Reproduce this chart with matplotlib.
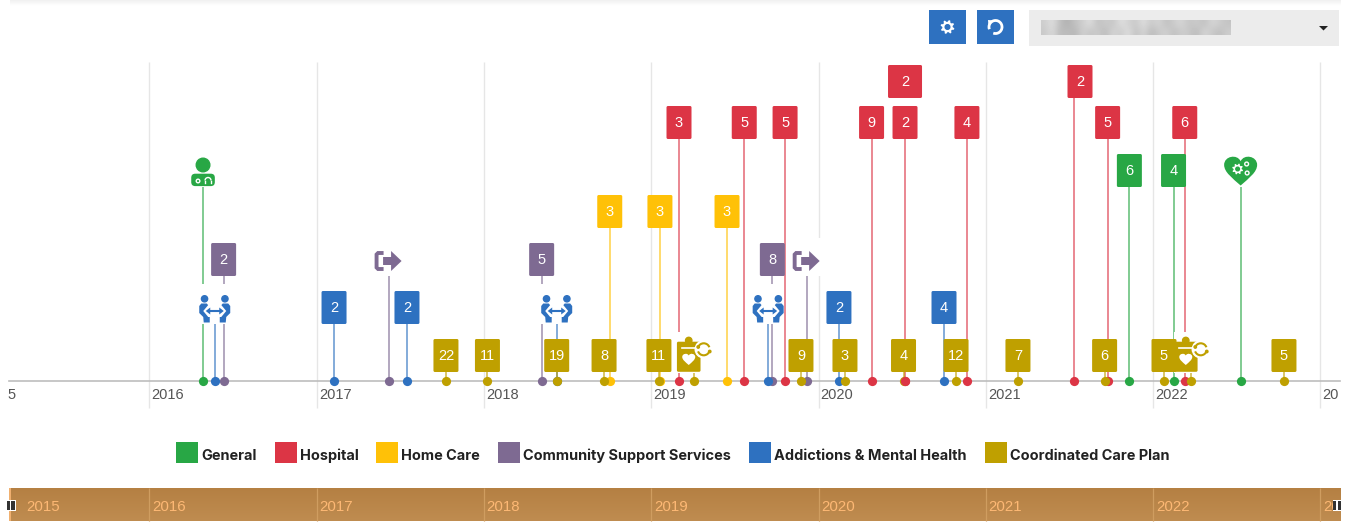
import matplotlib
matplotlib.use("Agg")
import matplotlib.pyplot as plt
import numpy as np
from matplotlib.patches import Arc, Circle, FancyBboxPatch, PathPatch, Polygon, Rectangle
from matplotlib.path import Path
from matplotlib.transforms import Affine2D

W, H = 1350, 531
BLUE = "#2e71c0"
GREEN = "#28a745"
RED = "#dc3545"
YELLOW = "#ffc107"
PURPLE = "#7e6a92"
GOLD = "#bfa000"
NAV_TOP, NAV_BOTTOM = "#b58043", "#bf8c50"

YEARS = [2016, 2017, 2018, 2019, 2020, 2021, 2022, 2023]
# the first and last labels are cut by the plot edge in the chart
AXIS_LABELS = ["5", "2016", "2017", "2018", "2019", "2020", "2021", "2022", "20"]
NAV_LABELS = ["2015", "2016", "2017", "2018", "2019", "2020", "2021", "2022", "20"]

# None in a counts list means the event is an icon, not a numbered box
GENERAL_YEARS = [2016.317, 2021.854, 2022.118, 2022.519]
GENERAL_COUNTS = [None, 6, 4, None]

HOSPITAL_YEARS = [2019.162, 2019.552, 2019.796, 2020.313, 2020.513, 2020.883, 2021.724, 2022.185]
HOSPITAL_COUNTS = [3, 5, 5, 9, 2, 4, 5, 6]

HOMECARE_YEARS = [2018.748, 2019.048, 2019.449]
HOMECARE_COUNTS = [3, 3, 3]

COMMUNITY_YEARS = [2016.44, 2017.426, 2018.341, 2019.72, 2019.925]
COMMUNITY_COUNTS = [2, None, 5, 8, None]

ADDICTIONS_YEARS = [2016.387, 2017.10, 2017.536, 2018.431, 2019.692, 2020.118, 2020.746]
ADDICTIONS_COUNTS = [None, 2, 2, None, None, 2, 4]

CARE_PLAN_YEARS = [2017.769, 2018.017, 2018.431, 2018.714, 2019.042, 2019.25, 2019.891, 2020.154,
                   2020.504, 2020.818, 2021.188, 2021.706, 2022.061, 2022.221, 2022.778]
CARE_PLAN_COUNTS = [22, 11, 19, 8, 11, None, 9, 3, 4, 12, 7, 6, 5, None, 5]

LEGEND_LABELS = ["General", "Hospital", "Home Care", "Community Support Services",
                 "Addictions & Mental Health", "Coordinated Care Plan"]
LEGEND_COLORS = [GREEN, RED, YELLOW, PURPLE, BLUE, GOLD]
LEGEND_X = [176, 275, 376, 498, 749, 985]

# box centre height for each series
SERIES = [
    (GENERAL_YEARS, GENERAL_COUNTS, GREEN, 170.5),
    (HOSPITAL_YEARS, HOSPITAL_COUNTS, RED, 122.5),
    (HOMECARE_YEARS, HOMECARE_COUNTS, YELLOW, 211.5),
    (COMMUNITY_YEARS, COMMUNITY_COUNTS, PURPLE, 259.5),
    (ADDICTIONS_YEARS, ADDICTIONS_COUNTS, BLUE, 307.5),
    (CARE_PLAN_YEARS, CARE_PLAN_COUNTS, GOLD, 355.5),
]

# hospital boxes stacked one row higher
HOSPITAL_TOP_YEARS = [2020.513, 2021.526]
HOSPITAL_TOP_COUNTS = [2, 2]

# blurred text in the period selector, grey levels
SELECT_BLUR = [
    [205, 225, 190, 175, 195, 205, 225, 190, 205, 195, 225, 210, 200, 225, 200, 215, 190, 205, 215, 195, 205, 190, 215, 205, 195],
    [200, 220, 185, 190, 180, 210, 195, 205, 185, 215, 200, 225, 190, 215, 185, 200, 210, 190, 205, 200, 185, 215, 200, 190, 205],
]

AXIS_Y = 380.5
PX_PER_YEAR = 167.3
X0 = 2016 - 150 / PX_PER_YEAR
X1 = X0 + W / PX_PER_YEAR

fig = plt.figure(figsize=(W / 100, H / 100), dpi=100, facecolor="white")
ax = fig.add_axes([0, 0, 1, 1])
ax.axis("off")
ax.set_xlim(X0, X1)
ax.set_ylim(H, 0)

# pixel coordinates, top-left origin, for the page furniture and icon shapes
ui = Affine2D().scale(1, -1).translate(0, H)


def to_px(year):
    return ax.transData.transform((year, 0))[0]


def to_year(px):
    return X0 + px / PX_PER_YEAR


def rect(x0, y0, x1, y1, color, z=1):
    ax.add_patch(Rectangle((x0, y0), x1 - x0, y1 - y0, facecolor=color, edgecolor="none",
                           transform=ui, zorder=z))


def box(cx, cy, label, color, half_w=11.5):
    ax.add_patch(FancyBboxPatch((cx - half_w, cy - 15.5), half_w * 2, 31, boxstyle="round,pad=1,rounding_size=1.5",
                                facecolor=color, edgecolor="none", transform=ui, zorder=5))
    ax.text(cx, cy + 0.5, str(label), color="white", fontsize=10.5, family="Liberation Sans",
            ha="center", va="center", transform=ui, zorder=6)


def stem(year, top, color):
    ax.plot([year, year], [top, AXIS_Y], color=color, lw=1.1, alpha=0.75, zorder=2,
            solid_capstyle="butt")


def gear(cx, cy, r, color, hole, z=7):
    angles = np.linspace(0, 2 * np.pi, 32, endpoint=False)
    radii = np.where(np.arange(32) % 4 < 2, r, r * 0.74)
    pts = np.column_stack([cx + radii * np.cos(angles + 0.2), cy + radii * np.sin(angles + 0.2)])
    ax.add_patch(Polygon(pts, closed=True, facecolor=color, edgecolor="none", transform=ui, zorder=z))
    ax.add_patch(Circle((cx, cy), r * 0.33, color=hole, transform=ui, zorder=z + 0.1))


def people_icon(cx):
    rect(cx - 15.5, 284, cx + 15.5, 324, "white", 3)
    for side in (-1, 1):
        ax.add_patch(Circle((cx + side * 10.2, 298.8), 3.1, color=BLUE, transform=ui, zorder=6))
        pts = [(side * 15.5, 306), (side * 13.5, 303.5), (side * 8, 303.5), (side * 5, 307), (side * 5, 322.5),
               (side * 11, 322.5), (side * 11.5, 317), (side * 15.5, 313)]
        ax.add_patch(Polygon([(cx + a, b) for a, b in pts], closed=True, facecolor=BLUE, edgecolor="none",
                             transform=ui, zorder=6))
    halo = [(-11.5, 311), (-6.5, 305), (6.5, 305), (11.5, 311), (6.5, 317), (-6.5, 317)]
    ax.add_patch(Polygon([(cx + a, b) for a, b in halo], closed=True, facecolor="white", edgecolor="none",
                         transform=ui, zorder=6.5))
    ax.plot([to_year(cx - 6), to_year(cx + 6)], [311, 311], color=BLUE, lw=1.5, zorder=7)
    for side in (-1, 1):
        head = [(cx + side * 9, 311), (cx + side * 4.5, 307.5), (cx + side * 4.5, 314.5)]
        ax.add_patch(Polygon(head, closed=True, facecolor=BLUE, edgecolor="none", transform=ui, zorder=7))


def exit_icon(cx):
    rect(cx - 15, 238, cx + 14, 276, "white", 3)
    verts = [(cx - 5, 253), (cx - 10.5, 253), (cx - 12, 254.5), (cx - 12, 267.5), (cx - 10.5, 269), (cx - 5, 269)]
    ax.add_patch(PathPatch(Path(verts), facecolor="none", edgecolor=PURPLE, lw=2.8, transform=ui, zorder=6))
    arrow = [(-5.5, 257), (2.5, 257), (2.5, 251), (13, 261), (2.5, 271), (2.5, 265), (-5.5, 265)]
    ax.add_patch(Polygon([(cx + a, b) for a, b in arrow], closed=True, facecolor=PURPLE, edgecolor="none",
                         transform=ui, zorder=6))


def doctor_icon(cx):
    ax.add_patch(Circle((cx, 165), 6.8, color=GREEN, transform=ui, zorder=6))
    ax.add_patch(FancyBboxPatch((cx - 10, 175.5), 20, 8.8, boxstyle="round,pad=1.8,rounding_size=4",
                                facecolor=GREEN, edgecolor="none", transform=ui, zorder=6))
    ax.add_patch(Circle((cx - 5, 181), 1.8, facecolor="none", edgecolor="white", lw=1, transform=ui, zorder=7))
    ax.add_patch(Arc((cx + 5, 180.5), 6, 6, theta1=180, theta2=360, color="white", lw=1, transform=ui, zorder=7))
    for dx in (2, 8):
        ax.plot([to_year(cx + dx)] * 2, [180.5, 183], color="white", lw=1, zorder=7)


def heart_path(cx, top, w, h):
    # top-down pixel coordinates
    return Path([(cx, top + h), (cx - w * 0.25, top + h * 0.75), (cx - w * 0.5, top + h * 0.55), (cx - w * 0.5, top + h * 0.3),
                 (cx - w * 0.5, top), (cx - w * 0.1, top - h * 0.08), (cx, top + h * 0.18),
                 (cx + w * 0.1, top - h * 0.08), (cx + w * 0.5, top), (cx + w * 0.5, top + h * 0.3),
                 (cx + w * 0.5, top + h * 0.55), (cx + w * 0.25, top + h * 0.75), (cx, top + h)],
                [Path.MOVETO] + [Path.CURVE4] * 12)


def heart_gears_icon(cx):
    ax.add_patch(PathPatch(heart_path(cx, 156, 33, 29.5), facecolor=GREEN, edgecolor="none", transform=ui, zorder=6))
    gear(cx - 3, 169, 5.5, "white", GREEN)
    for dx, y in ((6, 164), (6.5, 173)):
        ax.add_patch(Circle((cx + dx, y), 1.9, facecolor="none", edgecolor="white", lw=1, transform=ui, zorder=7))


def clipboard_icon(cx):
    rect(cx - 12, 332, cx + 27, 373, "white", 3)
    ax.add_patch(FancyBboxPatch((cx - 11, 342.5), 22, 28.5, boxstyle="round,pad=0.8,rounding_size=1.5",
                                facecolor=GOLD, edgecolor="none", transform=ui, zorder=6))
    ax.add_patch(Circle((cx, 340.5), 3.2, color=GOLD, transform=ui, zorder=6))
    ax.plot([to_year(cx - 7), to_year(cx + 7)], [348, 348], color="white", lw=1.2, zorder=7)
    ax.add_patch(PathPatch(heart_path(cx, 353.5, 13, 11.5), facecolor="white", edgecolor="none", transform=ui, zorder=7))
    ax.add_patch(Circle((cx + 15, 349.3), 8.5, color="white", transform=ui, zorder=6))
    for t1, t2, tip in ((20, 160, (cx + 9.5, 347)), (200, 340, (cx + 21, 351.5))):
        ax.add_patch(Arc((cx + 15, 349.3), 12, 12, theta1=t1, theta2=t2, color=GOLD, lw=1.5, transform=ui, zorder=7))
        ax.add_patch(Circle(tip, 1.2, color=GOLD, transform=ui, zorder=7))


# year grid and axis, grid lines sit half a pixel left of the year
grid_x = [to_year(to_px(y) - 0.6) for y in YEARS]
ax.vlines(grid_x, 62, 408, color="#e6e6e6", lw=1, zorder=0)
ax.plot([to_year(9), to_year(1340)], [AXIS_Y, AXIS_Y], color="#bdbdbd", lw=1.2, zorder=1)
tick_px = [7.5] + [to_px(y) + 1.5 for y in YEARS]
for px, label in zip(tick_px, AXIS_LABELS):
    ax.text(to_year(px), 395, label, color="#555555", fontsize=10.5, family="Liberation Sans",
            ha="left", va="center", zorder=2)

# events
for years, counts, color, level in SERIES:
    for year, count in zip(years, counts):
        stem(year, level + 16, color)
        if count is not None:
            box(to_px(year), level, count, color)
    ax.scatter(years, [AXIS_Y] * len(years), s=44, color=color, linewidths=0, zorder=8)

# the 2020 top box has no stem of its own and is drawn wider, the 2021 one hangs off its stem
box(to_px(HOSPITAL_TOP_YEARS[0]), 81.5, HOSPITAL_TOP_COUNTS[0], RED, half_w=16)
stem(HOSPITAL_TOP_YEARS[1], 98, RED)
box(to_px(HOSPITAL_TOP_YEARS[1]) + 5.5, 81.5, HOSPITAL_TOP_COUNTS[1], RED)
ax.scatter(HOSPITAL_TOP_YEARS, [AXIS_Y] * len(HOSPITAL_TOP_YEARS), s=44, color=RED, linewidths=0, zorder=8)

# icons over the stems
doctor_cx = to_px(GENERAL_YEARS[0])
rect(doctor_cx - 14, 150, doctor_cx + 14, 187, "white", 3)
doctor_icon(doctor_cx)
heart_cx = to_px(GENERAL_YEARS[3])
rect(heart_cx - 18, 150, heart_cx + 18, 187, "white", 3)
heart_gears_icon(heart_cx)
for i in (1, 4):
    exit_icon(to_px(COMMUNITY_YEARS[i]))
for i in (0, 3, 4):
    people_icon(to_px(ADDICTIONS_YEARS[i]) + (0.5 if i == 4 else 0))
for i in (5, 13):
    clipboard_icon(to_px(CARE_PLAN_YEARS[i]) - 5)

# legend
for label, color, lx in zip(LEGEND_LABELS, LEGEND_COLORS, LEGEND_X):
    rect(lx, 442, lx + 22, 463, color, 3)
    ax.text(lx + 25, 455.5, label, color="#222222", fontsize=10.45, family="Inter", weight="bold",
            ha="left", va="center", transform=ui, zorder=4)

# navigator strip
ramp = matplotlib.colors.LinearSegmentedColormap.from_list("nav", [NAV_TOP, NAV_BOTTOM])
ax.imshow(np.linspace(0, 1, 32).reshape(-1, 1), cmap=ramp, aspect="auto", zorder=1,
          extent=[to_year(9), to_year(1341), 521, 488])
ax.vlines(grid_x, 488, 521, color="#cf9d60", lw=0.9, zorder=2)
rect(9, 488, 10.5, 521, "#f0b070", 2)
nav_px = [26] + [to_px(y) + 2 for y in YEARS]
for px, label in zip(nav_px, NAV_LABELS):
    ax.text(to_year(px), 507, label, color="#fdb874", fontsize=10.8, family="Liberation Sans",
            ha="left", va="center", zorder=3)
for hx in (10.5, 1337):
    rect(hx - 4.5, 500, hx + 5, 511, "white", 4)
    rect(hx - 4, 501, hx - 0.8, 510, "#333333", 5)
    rect(hx + 0.8, 501, hx + 4, 510, "#333333", 5)

# toolbar
shadow = matplotlib.colors.LinearSegmentedColormap.from_list("sh", ["#f1f1f1", "#ffffff"])
ax.imshow(np.linspace(0, 1, 8).reshape(-1, 1), cmap=shadow, aspect="auto", zorder=0,
          extent=[to_year(10), to_year(1340), 6, 0])
rect(929, 10, 966, 44, BLUE, 2)
rect(977, 10, 1014, 44, BLUE, 2)
gear(947.5, 27, 7, "white", BLUE, 3)
ax.add_patch(Arc((995.5, 27), 13, 13, theta1=-200, theta2=110, color="white", lw=2, transform=ui, zorder=3))
ax.add_patch(Polygon([(988, 20), (994, 20.5), (988.5, 26)], closed=True, facecolor="white", edgecolor="none",
                     transform=ui, zorder=3))
rect(1029, 10, 1339, 46, "#ececec", 2)
ax.imshow(np.array(SELECT_BLUR), cmap="gray", vmin=0, vmax=255, aspect="auto", interpolation="bicubic",
          extent=[to_year(1041), to_year(1231), 35, 20], zorder=3)
ax.add_patch(Polygon([(1319, 26), (1328, 26), (1323.5, 30.5)], closed=True, facecolor="#222222",
                     edgecolor="none", transform=ui, zorder=3))

ax.set_xlim(X0, X1)
ax.set_ylim(H, 0)
fig.savefig("out.png", dpi=100, facecolor="white")
